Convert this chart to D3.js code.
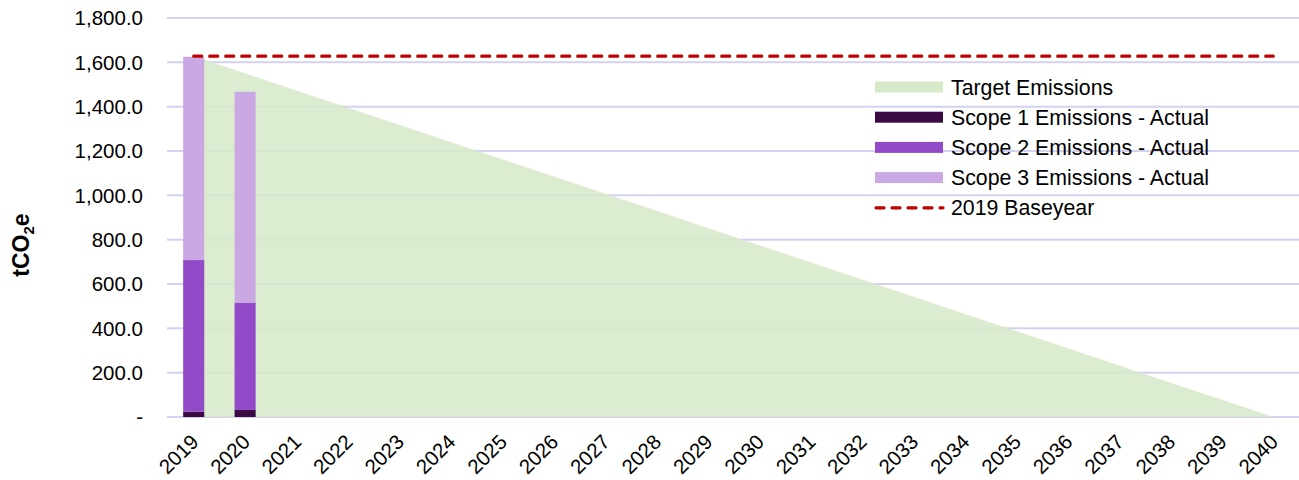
<!DOCTYPE html>
<html><head><meta charset="utf-8">
<script src="https://cdn.jsdelivr.net/npm/d3@7/dist/d3.min.js"></script>
<style>body{margin:0;background:#fff;}svg{display:block;font-family:"Liberation Sans",Arial,sans-serif;}</style>
</head><body>
<svg id="c" width="1299" height="480"></svg>
<script>
const years = ["2019","2020","2021","2022","2023","2024","2025","2026","2027","2028","2029","2030","2031","2032","2033","2034","2035","2036","2037","2038","2039","2040"];
const target = [1628,1550.5,1473,1395.4,1317.9,1240.4,1162.9,1085.3,1007.8,930.3,852.8,775.2,697.7,620.2,542.7,465.1,387.6,310.1,232.6,155.0,77.5,0];
const scope1 = [24,32];
const scope2 = [684,484];
const scope3 = [917,951];
const baseline = 1628;
const yTicks = [0,200,400,600,800,1000,1200,1400,1600,1800];
const seriesNames = ["Target Emissions","Scope 1 Emissions - Actual","Scope 2 Emissions - Actual","Scope 3 Emissions - Actual","2019 Baseyear"];
const colors = {target:"#d6e9c9", s1:"#3b0a45", s2:"#924ac8", s3:"#c9a8e3", base:"#c00000", grid:"#d4d0f2"};

const svg = d3.select("#c");
const L=168, R=1299, T=18, B=417;
const x = d3.scaleBand().domain(years).range([L,R]).paddingInner(0.59).paddingOuter(0.295);
const xc = d => x(d)+x.bandwidth()/2;
const y = d3.scaleLinear().domain([0,1800]).range([B,T]);

// gridlines
svg.append("g").selectAll("line").data(yTicks).join("line")
  .attr("x1",L-1).attr("x2",R).attr("y1",d=>y(d)).attr("y2",d=>y(d))
  .attr("stroke",colors.grid).attr("stroke-width",2);

// target area
const area = d3.area().x((d,i)=>xc(years[i])).y0(y(0)).y1(d=>y(d));
svg.append("path").datum(target).attr("d",area).attr("fill",colors.target).attr("opacity",0.88);

// stacked bars
const stackData = scope1.map((v,i)=>({year:years[i], s1:v, s2:scope2[i], s3:scope3[i]}));
const stack = d3.stack().keys(["s1","s2","s3"])(stackData);
svg.append("g").selectAll("g").data(stack).join("g").attr("fill",d=>colors[d.key])
  .selectAll("rect").data(d=>d).join("rect")
  .attr("x",d=>x(d.data.year)).attr("width",x.bandwidth())
  .attr("y",d=>y(d[1])).attr("height",d=>y(d[0])-y(d[1]));

// baseline
svg.append("line").attr("x1",xc(years[0])).attr("x2",xc(years[years.length-1]))
  .attr("y1",y(baseline)).attr("y2",y(baseline))
  .attr("stroke",colors.base).attr("stroke-width",3.2).attr("stroke-dasharray","8,8").attr("stroke-linecap","round");

// y axis labels
const fmt = d3.format(",.1f");
svg.append("g").selectAll("text").data(yTicks).join("text")
  .attr("x",143).attr("y",d=>y(d)).attr("dy","0.36em").attr("text-anchor","end")
  .attr("font-size",20.5).attr("fill","#000").text(d=>d===0?"-":fmt(d));

// x axis labels
svg.append("g").selectAll("text").data(years).join("text")
  .attr("transform",d=>`translate(${xc(d)+1},${B+21}) rotate(-45)`)
  .attr("text-anchor","end").attr("dy","0.35em")
  .attr("font-size",20.5).attr("fill","#000").text(d=>d);

// y title
const yt = svg.append("text").attr("transform","translate(29,245) rotate(-90)")
  .attr("text-anchor","middle").attr("font-size",23).attr("font-weight","bold").attr("fill","#000");
yt.append("tspan").text("tCO");
yt.append("tspan").attr("font-size",15).attr("dy",5).text("2");
yt.append("tspan").attr("dy",-5).text("e");

// legend
const lg = svg.append("g");
const rows = [
  {name:seriesNames[0], c:colors.target, t:"rect"},
  {name:seriesNames[1], c:colors.s1, t:"rect"},
  {name:seriesNames[2], c:colors.s2, t:"rect"},
  {name:seriesNames[3], c:colors.s3, t:"rect"},
  {name:seriesNames[4], c:colors.base, t:"line"}
];
rows.forEach((r,i)=>{
  const yy = 87 + i*30.2;
  if(r.t==="rect"){
    lg.append("rect").attr("x",875).attr("y",yy-5.5).attr("width",68).attr("height",11).attr("fill",r.c);
  } else {
    lg.append("line").attr("x1",876).attr("x2",943).attr("y1",yy).attr("y2",yy)
      .attr("stroke",r.c).attr("stroke-width",3.2).attr("stroke-dasharray","8,8").attr("stroke-linecap","round");
  }
  lg.append("text").attr("x",951).attr("y",yy).attr("dy","0.36em").attr("font-size",21.3).attr("fill","#000").text(r.name);
});
</script>
</body></html>
